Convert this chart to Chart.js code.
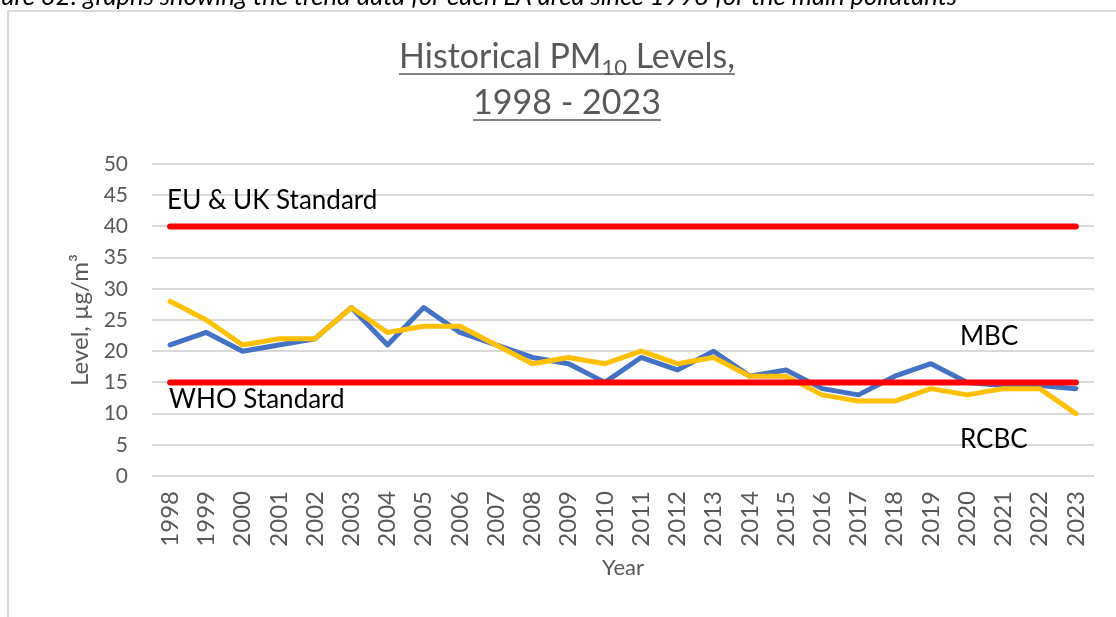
<!DOCTYPE html>
<html>
<head>
<meta charset="utf-8">
<script src="https://cdn.jsdelivr.net/npm/chart.js@4.4.1/dist/chart.umd.min.js"></script>
<style>
  html, body { margin: 0; padding: 0; background: #fff; overflow: hidden; }
  #wrap { position: relative; width: 1116px; height: 617px; }
</style>
</head>
<body>
<div id="wrap"><canvas id="c" width="1116" height="617"></canvas></div>
<script>
// ---- data ----
const years = ['1998','1999','2000','2001','2002','2003','2004','2005','2006','2007','2008','2009','2010',
               '2011','2012','2013','2014','2015','2016','2017','2018','2019','2020','2021','2022','2023'];
const mbc  = [21,23,20,21,22,27,21,27,23,21,19,18,15,19,17,20,16,17,14,13,16,18,15,14.5,14.5,14];
const rcbc = [28,25,21,22,22,27,23,24,24,21,18,19,18,20,18,19,16,16,13,12,12,14,13,14,14,10];
const euUkStandard = [40,40,40,40,40,40,40,40,40,40,40,40,40,40,40,40,40,40,40,40,40,40,40,40,40,40];
const whoStandard  = [15,15,15,15,15,15,15,15,15,15,15,15,15,15,15,15,15,15,15,15,15,15,15,15,15,15];
const yTicks = [0,5,10,15,20,25,30,35,40,45,50];

const titleLine1 = [{t:'Historical PM', sub:false},{t:'10', sub:true},{t:' Levels,', sub:false}];
const titleLine2 = '1998 - 2023';
const caption = 'ure 32: graphs showing the trend data for each LA area since 1998 for the main pollutants';

// in-chart text labels: [text, category index anchor, value anchor, dx]
const chartLabels = [
  {text:'EU & UK Standard', cat:0, val:44.2, dx:-3},
  {text:'WHO Standard', cat:0, val:12.2, dx:-1},
  {text:'MBC', cat:21, val:22.3, dx:29},
  {text:'RCBC', cat:21, val:5.9, dx:29}
];

const FONT = 'Lato, "Open Sans", sans-serif';
const GREY = '#595959';

const decor = {
  id: 'decor',
  beforeDraw(chart) {
    const ctx = chart.ctx;
    ctx.save();
    ctx.fillStyle = '#fff';
    ctx.fillRect(0, 0, chart.width, chart.height);
    ctx.strokeStyle = '#d9d9d9';
    ctx.lineWidth = 2;
    ctx.strokeRect(8, 11, 1140, 640);
    ctx.fillStyle = '#000';
    ctx.font = 'italic 25.6px ' + FONT;
    ctx.textAlign = 'right';
    ctx.textBaseline = 'alphabetic';
    ctx.fillText(caption, 957, 5);
    ctx.restore();
  },
  afterDraw(chart) {
    const ctx = chart.ctx;
    const xs = chart.scales.x, ys = chart.scales.y;
    ctx.save();
    // title
    const cx = 567;
    const mainFont = '34px ' + FONT, subFont = '22px ' + FONT;
    ctx.fillStyle = GREY;
    ctx.textBaseline = 'alphabetic';
    ctx.textAlign = 'left';
    let total = 0;
    const widths = titleLine1.map(p => { ctx.font = p.sub ? subFont : mainFont; const w = ctx.measureText(p.t).width; total += w; return w; });
    let x = cx - total / 2;
    const b1 = 68;
    titleLine1.forEach((p, i) => {
      ctx.font = p.sub ? subFont : mainFont;
      ctx.fillText(p.t, x, p.sub ? b1 + 7 : b1);
      x += widths[i];
    });
    ctx.strokeStyle = GREY;
    ctx.lineWidth = 1.6;
    ctx.beginPath();
    ctx.moveTo(cx - total / 2, b1 + 6); ctx.lineTo(cx + total / 2, b1 + 6);
    ctx.stroke();
    ctx.font = mainFont;
    ctx.textAlign = 'center';
    const b2 = 114;
    ctx.fillText(titleLine2, cx, b2);
    const w2 = ctx.measureText(titleLine2).width;
    ctx.beginPath();
    ctx.moveTo(cx - w2 / 2, b2 + 6); ctx.lineTo(cx + w2 / 2, b2 + 6);
    ctx.stroke();
    // labels
    ctx.fillStyle = '#000';
    ctx.font = '26px ' + FONT;
    ctx.textAlign = 'left';
    ctx.textBaseline = 'middle';
    chartLabels.forEach(l => {
      ctx.fillText(l.text, xs.getPixelForValue(l.cat) + l.dx, ys.getPixelForValue(l.val));
    });
    ctx.restore();
  }
};

new Chart(document.getElementById('c'), {
  type: 'line',
  data: {
    labels: years,
    datasets: [
      {label:'WHO Standard', data: whoStandard, borderColor:'#ff0000', borderWidth:6},
      {label:'EU & UK Standard', data: euUkStandard, borderColor:'#ff0000', borderWidth:6},
      {label:'RCBC', data: rcbc, borderColor:'#ffc000', borderWidth:5},
      {label:'MBC', data: mbc, borderColor:'#4472c4', borderWidth:5}
    ]
  },
  options: {
    responsive: false,
    animation: false,
    events: [],
    layout: { padding: { top: 164, right: 22, left: 0, bottom: 0 } },
    elements: {
      point: { radius: 0 },
      line: { tension: 0, borderCapStyle: 'round', borderJoinStyle: 'round', fill: false }
    },
    plugins: { legend: { display: false }, tooltip: { enabled: false }, title: { display: false } },
    scales: {
      x: {
        offset: true,
        grid: { display: false, drawTicks: false },
        border: { display: false },
        ticks: { color: GREY, font: { family: FONT, size: 24 }, minRotation: 90, maxRotation: 90, padding: 15, autoSkip: false },
        title: { display: true, text: 'Year', color: GREY, font: { family: FONT, size: 22 }, padding: { top: 0, bottom: 36 } },
        afterFit(s) { s.height = 141; s.paddingLeft = 0; s.paddingRight = 0; }
      },
      y: {
        min: 0, max: 50,
        afterBuildTicks(s) { s.ticks = yTicks.map(v => ({ value: v })); },
        grid: { color: '#d9d9d9', lineWidth: 2, drawTicks: false },
        border: { display: false },
        ticks: { color: GREY, font: { family: FONT, size: 21 }, padding: 24 },
        title: { display: true, text: 'Level, µg/m³', color: GREY, font: { family: FONT, size: 24 }, padding: { top: 66, bottom: 0 } },
        afterFit(s) { s.width = 152; s.paddingTop = 0; s.paddingBottom = 0; }
      }
    }
  },
  plugins: [decor]
});
</script>
</body>
</html>
